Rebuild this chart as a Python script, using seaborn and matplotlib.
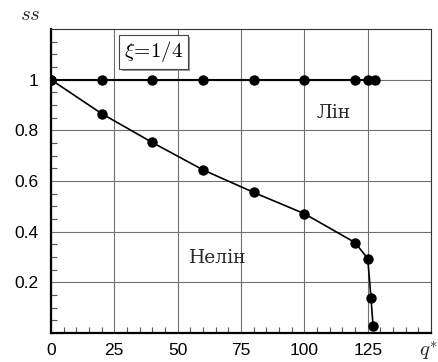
import numpy as np
import pandas as pd
import seaborn as sns
import matplotlib.pyplot as plt
import matplotlib.transforms as mtransforms
from matplotlib.patches import Rectangle
from matplotlib.ticker import MultipleLocator, FixedLocator

# Лін (linear) curve
lin_q = [0, 20, 40, 60, 80, 100, 120, 125, 128]
lin_ss = [1, 1, 1, 1, 1, 1, 1, 1, 1]

# Нелін (nonlinear) curve
nelin_q = [0, 20, 40, 60, 80, 100, 120, 125, 126.3, 127.1]
nelin_ss = [1, 0.866, 0.752, 0.644, 0.555, 0.471, 0.357, 0.294, 0.137, 0.028]

x_ticks = [0, 25, 50, 75, 100, 125]
y_ticks = [0.2, 0.4, 0.6, 0.8, 1.0]
y_labels = ["0.2", "0.4", "0.6", "0.8", "1"]

sns.set_style("white")
plt.rcParams['mathtext.fontset'] = 'cm'
plt.rcParams['font.family'] = ['Liberation Sans', 'DejaVu Sans']

fig = plt.figure(figsize=(4.39, 3.62), dpi=100)
ax = fig.add_axes([0.116, 0.080, 0.866, 0.840])

df_lin = pd.DataFrame({'q': lin_q, 'ss': lin_ss})
df_nelin = pd.DataFrame({'q': nelin_q, 'ss': nelin_ss})

sns.lineplot(data=df_lin, x='q', y='ss', ax=ax, color='black', linewidth=1.5,
             marker='o', markersize=7.5, markeredgewidth=0, sort=False, zorder=3)
sns.lineplot(data=df_nelin, x='q', y='ss', ax=ax, color='black', linewidth=1.2,
             marker='o', markersize=7.5, markeredgewidth=0, sort=False, zorder=3)

ax.set_xlim(0, 150)
ax.set_ylim(0, 1.2)
ax.xaxis.set_major_locator(FixedLocator(x_ticks))
ax.yaxis.set_major_locator(FixedLocator(y_ticks))
ax.set_xticklabels([str(t) for t in x_ticks])
ax.set_yticklabels(y_labels)
ax.xaxis.set_minor_locator(MultipleLocator(5))
ax.yaxis.set_minor_locator(MultipleLocator(0.05))
ax.tick_params(which='major', length=0, labelsize=12.5, colors='black')
ax.tick_params(axis='y', which='major', pad=9)
ax.tick_params(axis='x', which='major', pad=7)
ax.tick_params(which='minor', direction='in', length=4, width=0.8,
               color='#555555', bottom=True, left=True)
ax.grid(True, which='major', color='#707070', linewidth=0.8)
ax.set_xlabel('')
ax.set_ylabel('')

for side in ['left', 'bottom']:
    ax.spines[side].set_color('black')
    ax.spines[side].set_linewidth(1.6)
for side in ['top', 'right']:
    ax.spines[side].set_color('#333333')
    ax.spines[side].set_linewidth(0.8)

ax.text(111.5, 0.87, 'Лін', fontsize=13.5, family='DejaVu Serif',
        ha='center', va='center')
ax.text(66, 0.295, 'Нелін', fontsize=13.5, family='DejaVu Serif',
        ha='center', va='center')

# label box, then a small grey shadow behind it
label = ax.text(40.5, 1.11, r'$\xi\!=\!1/4$', color='black', fontsize=15,
                ha='center', va='center', zorder=6,
                bbox=dict(boxstyle='square,pad=0.22', facecolor='white',
                          edgecolor='#444444', linewidth=0.8))
fig.canvas.draw()
bb = label.get_bbox_patch().get_window_extent()
ax.add_patch(Rectangle((bb.x0 + 2.5, bb.y0 - 2.5), bb.width, bb.height,
                       transform=mtransforms.IdentityTransform(),
                       facecolor='#999999', edgecolor='none',
                       zorder=4.5, clip_on=False))

fig.text(30 / 439, 1 - 15 / 362, r'$ss$', fontsize=15, ha='center', va='center')
fig.text(428 / 439, 1 - 351 / 362, r'$q^{*}$', fontsize=15, ha='center', va='center')

fig.savefig('out.png', dpi=100)
